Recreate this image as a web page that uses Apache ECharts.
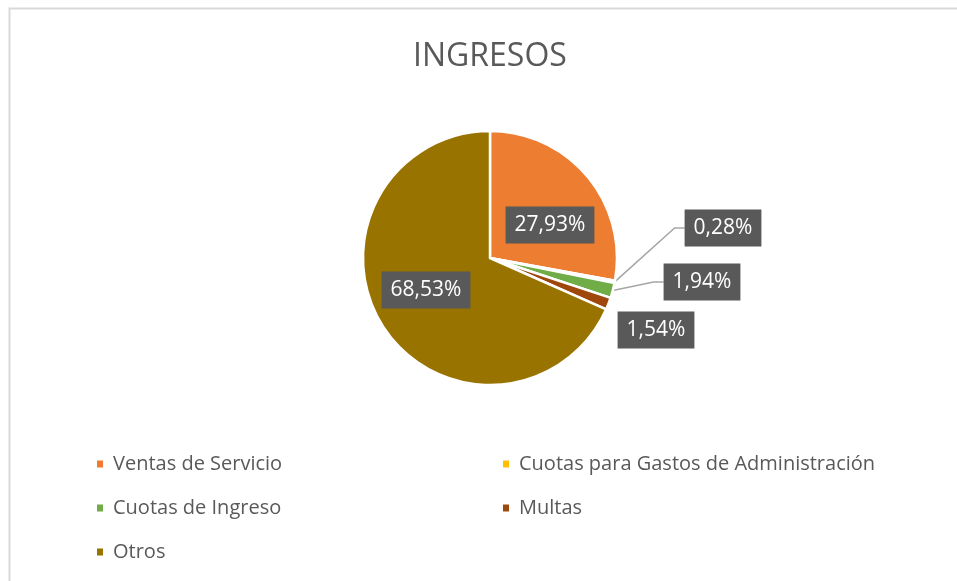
<!DOCTYPE html>
<html>
<head>
<meta charset="utf-8">
<script src="https://cdn.jsdelivr.net/npm/echarts@6/dist/echarts.min.js"></script>
<style>
  html, body { margin: 0; padding: 0; background: #fff; }
  #chart { width: 957px; height: 581px; }
</style>
</head>
<body>
<div id="chart"></div>
<script>
// data
const categories = [
  'Ventas de Servicio',
  'Cuotas para Gastos de Administración',
  'Cuotas de Ingreso',
  'Multas',
  'Otros'
];
const values = [27.93, 0.28, 1.94, 1.54, 68.53];
const colors = ['#ED7D31', '#FFC000', '#70AD47', '#9E480E', '#997300'];

// where each data label box sits (center), like the Excel layout
const labelSpots = [[550, 225], [723, 228], [702, 282], [656, 330], [426, 290]];
const withLine = [false, true, true, false, false];

const FONT = 'Open Sans';

let chart = echarts.init(document.getElementById('chart'));

const legendBase = {
  orient: 'vertical',
  top: 447,
  itemGap: 20,
  icon: 'rect',
  itemWidth: 8,
  itemHeight: 9,
  textStyle: { fontFamily: FONT, fontSize: 20, lineHeight: 24, color: '#595959', padding: [0, 0, 0, 4] }
};

const option = {
  backgroundColor: '#fff',
  animation: false,
  color: colors,
  title: {
    text: 'INGRESOS',
    left: 408,
    top: 36,
    textStyle: { fontFamily: FONT, fontSize: 32, fontWeight: 'normal', color: '#595959' }
  },
  graphic: [{
    type: 'rect',
    shape: { x: 9.5, y: 8.5, width: 1200, height: 1000 },
    style: { fill: 'none', stroke: '#d9d9d9', lineWidth: 2 },
    silent: true
  }],
  legend: [
    Object.assign({}, legendBase, { left: 90, data: [categories[0], categories[2], categories[4]] }),
    Object.assign({}, legendBase, { left: 496, data: [categories[1], categories[3]] })
  ],
  series: [{
    type: 'pie',
    center: [490, 258],
    radius: [0, 127],
    startAngle: 90,
    clockwise: true,
    avoidLabelOverlap: false,
    itemStyle: { borderColor: '#fff', borderWidth: 2.5 },
    label: {
      show: true,
      position: 'inside',
      formatter: p => p.value.toFixed(2).replace('.', ',') + '%',
      fontFamily: FONT,
      fontSize: 21,
      lineHeight: 22,
      color: '#fff',
      backgroundColor: '#595959',
      padding: [8, 9, 7, 9]
    },
    labelLine: { show: false },
    labelLayout: function (params) {
      const s = labelSpots[params.dataIndex];
      return { x: s[0], y: s[1], align: 'center', verticalAlign: 'middle' };
    },
    emphasis: { disabled: true },
    data: categories.map((name, i) => ({
      name: name,
      value: values[i],
      label: withLine[i] ? { position: 'outside' } : {},
      labelLine: withLine[i]
        ? { show: true, length: 10, length2: 10, lineStyle: { color: '#a6a6a6', width: 1.5 } }
        : { show: false }
    }))
  }]
};

chart.setOption(option);
</script>
</body>
</html>
